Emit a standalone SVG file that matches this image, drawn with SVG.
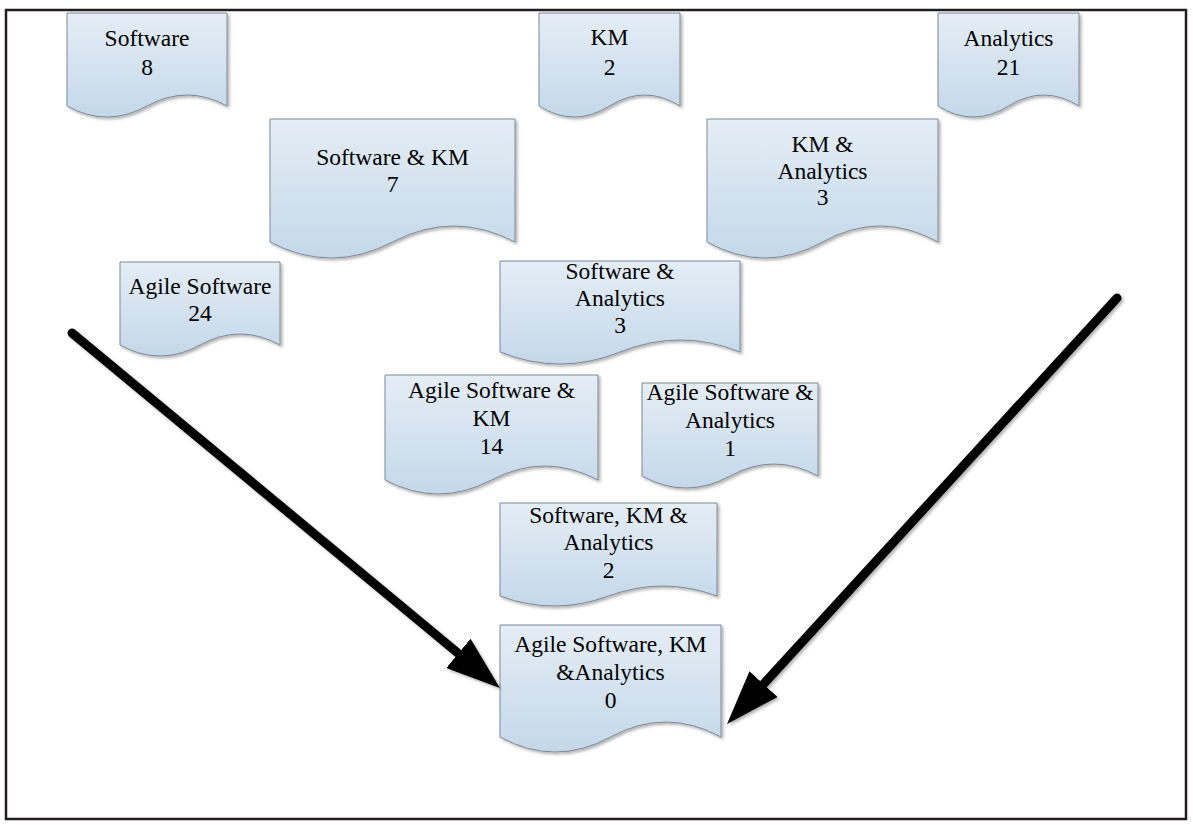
<svg xmlns="http://www.w3.org/2000/svg" width="1193" height="825" viewBox="0 0 1193 825">
  <defs>
    <linearGradient id="docFill" x1="0" y1="0" x2="0" y2="1">
      <stop offset="0" stop-color="#e5edf5"/>
      <stop offset="1" stop-color="#c4d8ea"/>
    </linearGradient>
    <filter id="shadow" x="-10%" y="-10%" width="130%" height="130%">
      <feDropShadow dx="2" dy="2" stdDeviation="1.5" flood-color="#000" flood-opacity="0.3"/>
    </filter>
    <marker id="arrowHead" markerUnits="userSpaceOnUse" markerWidth="58" markerHeight="40" viewBox="0 0 58 40" refX="12" refY="20" orient="auto">
      <path d="M0,1 L54,20 L0,39 Z" fill="#000"/>
    </marker>
    <style>
      .doc { fill: url(#docFill); stroke: #7d8996; stroke-width: 1; filter: url(#shadow); }
      .lbl { font-size: 23.5px; fill: #000; text-anchor: middle; }
      .arrow { fill: none; stroke: #000; stroke-width: 9; stroke-linecap: round; filter: url(#shadow); }
      .frame { fill: none; stroke: #231f20; stroke-width: 2.5; }
    </style>
  </defs>

  <rect width="1193" height="825" fill="#fff"/>
  <rect class="frame" x="6" y="10" width="1180" height="809"/>

  <g font-family="'Liberation Serif', 'Times New Roman', 'DejaVu Serif', serif">
  <g id="node-software">
    <path class="doc" d="M67,13 H227 V106 Q187,84 147,106 T67,106 Z"/>
    <text class="lbl" x="147" y="46">Software</text>
    <text class="lbl" x="147" y="75">8</text>
  </g>

  <g id="node-km">
    <path class="doc" d="M539,13 H680 V106 Q644.75,84 609.5,106 T539,106 Z"/>
    <text class="lbl" x="609.5" y="45">KM</text>
    <text class="lbl" x="609.5" y="75">2</text>
  </g>

  <g id="node-analytics">
    <path class="doc" d="M938,13 H1079 V106 Q1043.75,84 1008.5,106 T938,106 Z"/>
    <text class="lbl" x="1008.5" y="46">Analytics</text>
    <text class="lbl" x="1008.5" y="75">21</text>
  </g>

  <g id="node-software-km">
    <path class="doc" d="M270,119 H515 V242 Q453.75,210 392.5,242 T270,242 Z"/>
    <text class="lbl" x="392.5" y="165">Software &amp; KM</text>
    <text class="lbl" x="392.5" y="192">7</text>
  </g>

  <g id="node-km-analytics">
    <path class="doc" d="M707,119 H938 V242 Q880.25,210 822.5,242 T707,242 Z"/>
    <text class="lbl" x="822.5" y="152">KM &amp;</text>
    <text class="lbl" x="822.5" y="179">Analytics</text>
    <text class="lbl" x="822.5" y="205">3</text>
  </g>

  <g id="node-agile-software">
    <path class="doc" d="M120,262 H280 V345 Q240,323 200,345 T120,345 Z"/>
    <text class="lbl" x="200" y="294">Agile Software</text>
    <text class="lbl" x="200" y="321">24</text>
  </g>

  <g id="node-software-analytics">
    <path class="doc" d="M500,261 H740 V352 Q680,328 620,352 T500,352 Z"/>
    <text class="lbl" x="620" y="279">Software &amp;</text>
    <text class="lbl" x="620" y="306">Analytics</text>
    <text class="lbl" x="620" y="333">3</text>
  </g>

  <g id="node-agile-km">
    <path class="doc" d="M385,375 H598 V480 Q544.75,452 491.5,480 T385,480 Z"/>
    <text class="lbl" x="491.5" y="398">Agile Software &amp;</text>
    <text class="lbl" x="491.5" y="426">KM</text>
    <text class="lbl" x="491.5" y="454">14</text>
  </g>

  <g id="node-agile-analytics">
    <path class="doc" d="M642,383 H818 V476 Q774,452 730,476 T642,476 Z"/>
    <text class="lbl" x="730" y="400">Agile Software &amp;</text>
    <text class="lbl" x="730" y="428">Analytics</text>
    <text class="lbl" x="730" y="456">1</text>
  </g>

  <g id="node-software-km-analytics">
    <path class="doc" d="M500,503 H717 V596 Q662.75,576 608.5,596 T500,596 Z"/>
    <text class="lbl" x="608.5" y="523">Software, KM &amp;</text>
    <text class="lbl" x="608.5" y="550">Analytics</text>
    <text class="lbl" x="608.5" y="578">2</text>
  </g>

  <g id="node-agile-km-analytics">
    <path class="doc" d="M500,625 H721 V737 Q665.75,707 610.5,737 T500,737 Z"/>
    <text class="lbl" x="610.5" y="652">Agile Software, KM</text>
    <text class="lbl" x="610.5" y="680">&amp;Analytics</text>
    <text class="lbl" x="610.5" y="708">0</text>
  </g>
  </g>

  <g id="connectors">
    <line class="arrow" x1="72" y1="333" x2="467.6" y2="661.1" marker-end="url(#arrowHead)"/>
    <line class="arrow" x1="1117" y1="298" x2="755.4" y2="693.0" marker-end="url(#arrowHead)"/>
  </g>
</svg>
